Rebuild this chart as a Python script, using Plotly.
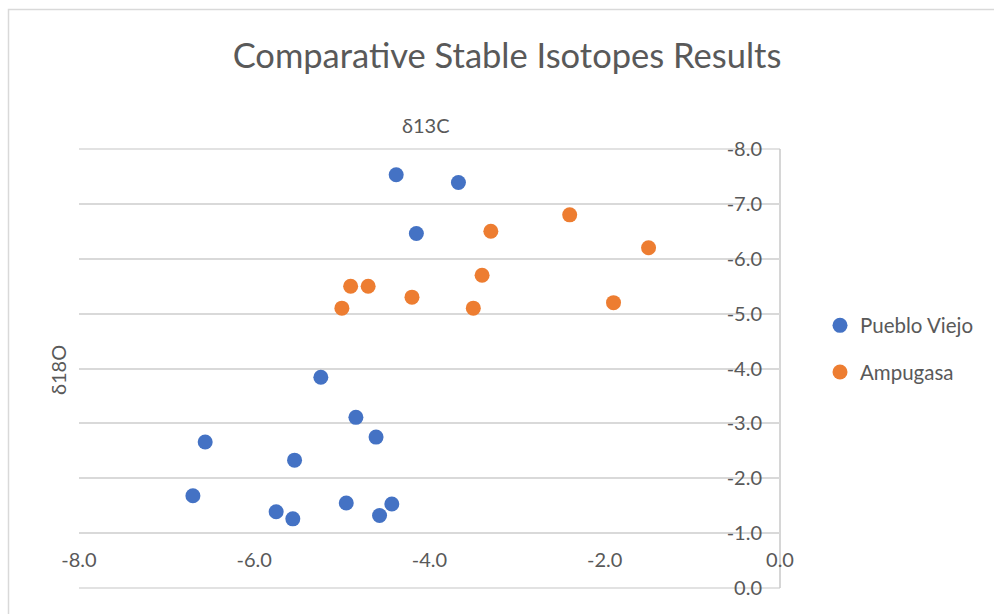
import plotly.graph_objects as go

# ---- data ----
pv_d13c = [-4.38, -3.67, -4.15, -5.24, -4.84, -4.61, -6.56, -5.54, -6.70, -5.75, -5.56, -4.95, -4.57, -4.43]
pv_d18o = [-7.53, -7.39, -6.46, -3.84, -3.11, -2.75, -2.66, -2.33, -1.68, -1.39, -1.26, -1.55, -1.32, -1.53]
amp_d13c = [-2.4, -3.3, -1.5, -3.4, -4.9, -4.7, -4.2, -5.0, -3.5, -1.9]
amp_d18o = [-6.8, -6.5, -6.2, -5.7, -5.5, -5.5, -5.3, -5.1, -5.1, -5.2]
x_tickvals = [-8, -6, -4, -2, 0]
x_ticktext = ["-8.0", "-6.0", "-4.0", "-2.0", "0.0"]
y_tickvals = [-8, -7, -6, -5, -4, -3, -2, -1, 0]
y_ticktext = ["-8.0", "-7.0", "-6.0", "-5.0", "-4.0", "-3.0", "-2.0", "-1.0", "0.0"]

FONT = "Lato, 'Open Sans', sans-serif"
TXT = "#595959"
GRID = "#d9d9d9"

W, H = 994, 614
ML, MR, MT, MB = 79, 214, 149, 26
pw, ph = W - ML - MR, H - MT - MB

def px(xp):
    return (xp - ML) / pw

def py(yp):
    return (H - MB - yp) / ph

fig = go.Figure()
fig.add_trace(go.Scatter(x=pv_d13c, y=pv_d18o, mode="markers", name="Pueblo Viejo",
                         legendgroup="a",
                         marker=dict(color="#4472C4", size=15, line=dict(width=0))))
fig.add_trace(go.Scatter(x=amp_d13c, y=amp_d18o, mode="markers", name="Ampugasa",
                         legendgroup="b",
                         marker=dict(color="#ED7D31", size=15, line=dict(width=0))))

# plot-area frame pieces (top & bottom gridlines, vertical axis line at x=0)
edge_lines = [
    dict(type="line", xref="paper", yref="paper", x0=0, x1=1, y0=1, y1=1,
         line=dict(color=GRID, width=1.5), layer="below"),
    dict(type="line", xref="paper", yref="paper", x0=0, x1=1, y0=0, y1=0,
         line=dict(color=GRID, width=1.5), layer="below"),
    dict(type="line", xref="paper", yref="paper", x0=1, x1=1, y0=0, y1=1,
         line=dict(color="#c8c8c8", width=1.5), layer="below"),
]

fig.update_layout(
    width=W, height=H, autosize=False,
    margin=dict(l=ML, r=MR, t=MT, b=MB, pad=0),
    paper_bgcolor="white", plot_bgcolor="white",
    font=dict(family=FONT, color=TXT),
    title=dict(text="Comparative Stable Isotopes Results", x=507 / W, xanchor="center",
               y=1 - 56 / H, yanchor="middle",
               font=dict(size=34.5, color=TXT, family=FONT)),
    xaxis=dict(range=[-8, 0], tickvals=x_tickvals, ticktext=x_ticktext,
               anchor="free", position=0.125, side="bottom",
               showgrid=False, zeroline=False, showline=True, linecolor=GRID, linewidth=1.5,
               ticks="", ticklabelstandoff=9, tickfont=dict(size=20, color=TXT)),
    yaxis=dict(range=[0, -8], tickvals=y_tickvals, ticktext=y_ticktext,
               anchor="free", position=1, side="left",
               showgrid=True, gridcolor=GRID, gridwidth=1.5, zeroline=False,
               showline=False,
               ticks="", ticklabelstandoff=18, tickfont=dict(size=20, color=TXT)),
    legend=dict(x=px(820), xanchor="left", y=py(349), yanchor="middle",
                font=dict(size=20.5, color=TXT), tracegroupgap=17,
                bgcolor="rgba(0,0,0,0)", itemwidth=30),
    showlegend=True,
    annotations=[
        dict(text="δ13C", x=px(426), y=py(125), xref="paper", yref="paper",
             xanchor="center", yanchor="middle", showarrow=False,
             font=dict(size=20, color=TXT, family=FONT)),
        dict(text="δ18O", x=px(58), y=py(370), xref="paper", yref="paper",
             xanchor="center", yanchor="middle", showarrow=False, textangle=-90,
             font=dict(size=20, color=TXT, family=FONT)),
    ],
    shapes=[
        dict(type="rect", xref="paper", yref="paper",
             x0=px(8.5), x1=px(1010), y0=py(630), y1=py(9.5),
             line=dict(color=GRID, width=1.5), fillcolor="rgba(0,0,0,0)", layer="below"),
    ] + edge_lines,
)

fig.write_html("out.html", config={"displayModeBar": False},
               post_script="document.body.style.margin='0';document.body.style.overflow='hidden';")
